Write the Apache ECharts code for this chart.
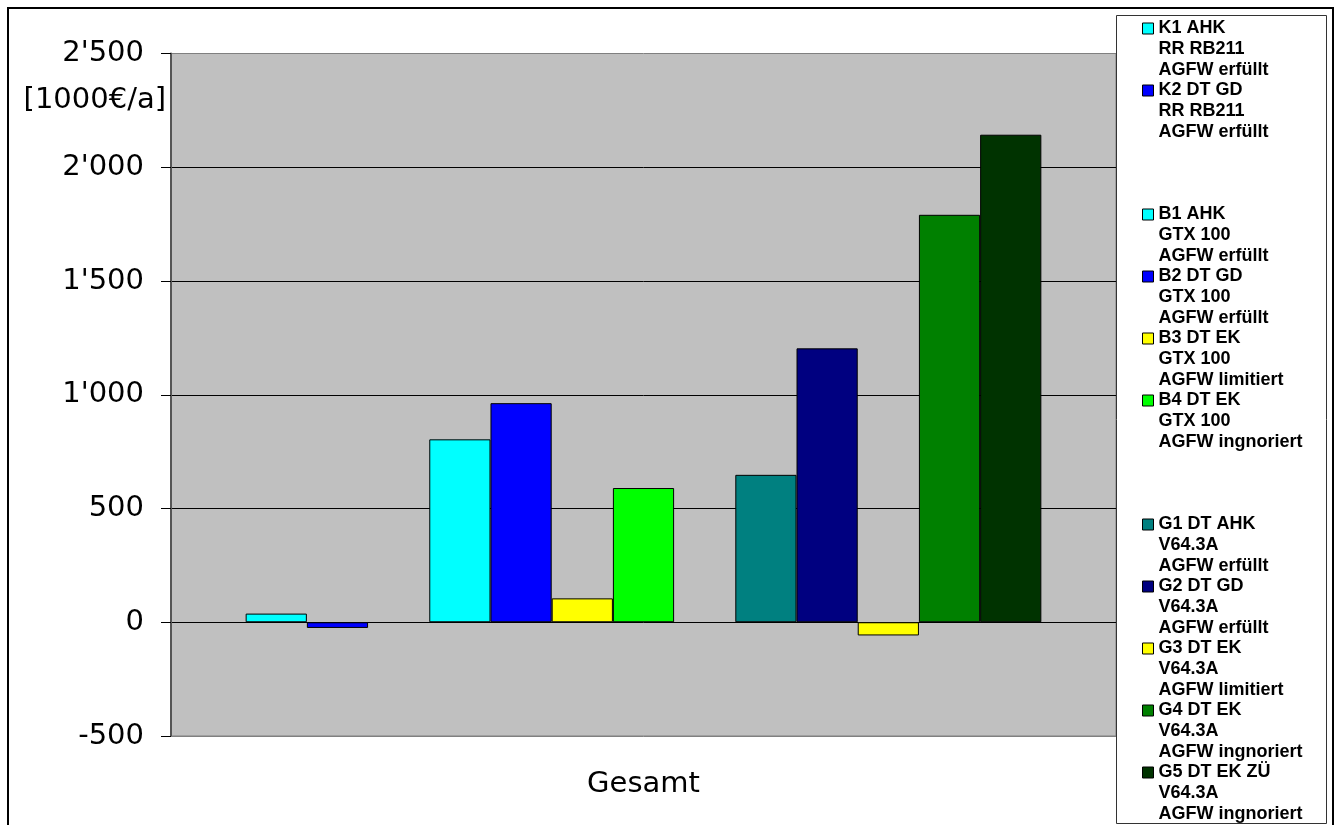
<!DOCTYPE html>
<html>
<head>
<meta charset="utf-8">
<script src="https://cdn.jsdelivr.net/npm/echarts@6/dist/echarts.min.js"></script>
<style>
html,body{margin:0;padding:0;background:#fff;}
#chart{width:1341px;height:825px;}
</style>
</head>
<body>
<div id="chart"></div>
<script>
// ---- data ----
const categories = ['Gesamt'];
const seriesNames = ['K1 AHK', 'K2 DT GD', ' ', 'B1 AHK', 'B2 DT GD', 'B3 DT EK', 'B4 DT EK', '  ', 'G1 DT AHK', 'G2 DT GD', 'G3 DT EK', 'G4 DT EK', 'G5 DT EK ZÜ'];
const seriesLine2 = ['RR RB211', 'RR RB211', ' ', 'GTX 100', 'GTX 100', 'GTX 100', 'GTX 100', ' ', 'V64.3A', 'V64.3A', 'V64.3A', 'V64.3A', 'V64.3A'];
const seriesLine3 = ['AGFW erfüllt', 'AGFW erfüllt', ' ', 'AGFW erfüllt', 'AGFW erfüllt', 'AGFW limitiert', 'AGFW ingnoriert', ' ', 'AGFW erfüllt', 'AGFW erfüllt', 'AGFW limitiert', 'AGFW ingnoriert', 'AGFW ingnoriert'];
const seriesValues = [38, -25, null, 804, 963, 105, 590, null, 648, 1204, -58, 1791, 2143];
const yAxisName = '[1000€/a]';
// ---- styles ----
const seriesColors = ['#00FFFF', '#0000FF', 'rgba(0,0,0,0)', '#00FFFF', '#0000FF', '#FFFF00', '#00FF00', 'rgba(0,0,0,0)', '#008080', '#000080', '#FFFF00', '#008000', '#003300'];
const isBlank = seriesNames.map(n => n.trim() === '');

const chart = echarts.init(document.getElementById('chart'), null, {renderer: 'canvas'});

// two empty lines before the name so that the first real line sits beside the legend marker
const fullLabel = {};
seriesNames.forEach((n, i) => { fullLabel[n] = [' ', ' ', n, seriesLine2[i], seriesLine3[i]].join('\n'); });

const LH = 20.6;

const option = {
  backgroundColor: '#ffffff',
  animation: false,
  grid: {
    left: 171, right: 225, top: 53.5, bottom: 89,
    show: true, backgroundColor: '#C0C0C0', borderColor: '#808080', borderWidth: 1
  },
  xAxis: {
    type: 'category',
    data: categories,
    axisLine: {show: true, onZero: false, lineStyle: {color: '#808080', width: 1}},
    axisTick: {show: false},
    axisLabel: {margin: 34, fontFamily: 'DejaVu Sans', fontSize: 29, color: '#000'},
    splitLine: {show: false}
  },
  yAxis: {
    type: 'value',
    min: -500, max: 2500, interval: 500,
    name: yAxisName,
    nameLocation: 'end',
    nameGap: -47,
    nameTextStyle: {fontFamily: 'DejaVu Sans', fontSize: 29, color: '#000', align: 'right', verticalAlign: 'middle', padding: [0, 5, 0, 0]},
    axisLine: {show: true, lineStyle: {color: '#555555', width: 2}},
    axisTick: {show: true, inside: false, length: 10, lineStyle: {color: '#000', width: 1}},
    axisLabel: {
      margin: 27, fontFamily: 'DejaVu Sans', fontSize: 29, color: '#000',
      formatter: v => String(v).replace(/(\d)(?=(\d{3})+$)/, "$1'")
    },
    splitLine: {show: true, showMinLine: false, showMaxLine: false, lineStyle: {color: '#000', width: 1}}
  },
  legend: {
    orient: 'vertical',
    left: 1142, top: -23,
    height: 2000,
    padding: 0,
    itemGap: -41,
    itemWidth: 11, itemHeight: 11,
    icon: 'rect',
    selectedMode: false,
    itemStyle: {borderColor: '#000', borderWidth: 1},
    data: seriesNames.map((n, i) => isBlank[i]
      ? {name: n, itemStyle: {color: 'rgba(0,0,0,0)', borderColor: 'rgba(0,0,0,0)', borderWidth: 0}}
      : {name: n}),
    formatter: n => fullLabel[n],
    textStyle: {fontFamily: 'Liberation Sans', fontWeight: 'bold', fontSize: 18, lineHeight: LH, color: '#000'}
  },
  graphic: [
    {type: 'rect', z: 3, shape: {x: 1116.5, y: 15.5, width: 210, height: 808}, style: {fill: '#ffffff', stroke: '#333333', lineWidth: 1}},
    {type: 'rect', z: 10, shape: {x: 8, y: 8, width: 1325, height: 840}, style: {fill: 'none', stroke: '#000000', lineWidth: 2}}
  ],
  series: seriesNames.map((n, i) => ({
    type: 'bar',
    name: n,
    data: [seriesValues[i]],
    barGap: '0%',
    barCategoryGap: '15.8%',
    itemStyle: {color: seriesColors[i], borderColor: isBlank[i] ? 'rgba(0,0,0,0)' : '#000', borderWidth: isBlank[i] ? 0 : 1},
    emphasis: {disabled: true}
  }))
};
chart.setOption(option);
</script>
</body>
</html>
